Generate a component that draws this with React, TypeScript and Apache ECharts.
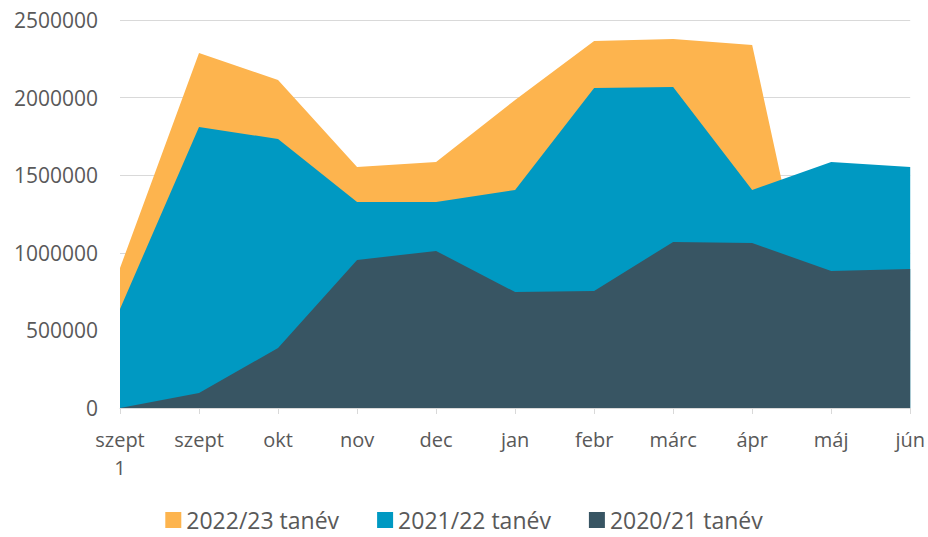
import React, { useEffect, useRef } from "react";
import * as echarts from "echarts";

const categories = ["szept\n1", "szept", "okt", "nov", "dec", "jan", "febr", "márc", "ápr", "máj", "jún"];
const s2022 = [902000, 2287000, 2113000, 1553000, 1585000, 1985000, 2365000, 2378000, 2339000, 0, 0];
const s2021 = [638000, 1811000, 1733000, 1327000, 1327000, 1405000, 2062000, 2068000, 1405000, 1585000, 1553000];
const s2020 = [0, 96000, 387000, 954000, 1012000, 747000, 754000, 1070000, 1063000, 883000, 896000];
const yTicks = { min: 0, max: 2500000, interval: 500000 };

const FONT = "'Open Sans', 'Noto Sans', sans-serif";
const TXT = "#595959";

export default function App() {
  const ref = useRef<HTMLDivElement>(null);
  useEffect(() => {
    const chart = echarts.init(ref.current!, null, { renderer: "svg" });
    const area = (name: string, data: number[], color: string) => ({
      name,
      type: "line",
      data,
      symbol: "none",
      lineStyle: { width: 0 },
      itemStyle: { color },
      areaStyle: { color, opacity: 1 },
    });
    chart.setOption({
      animation: false,
      textStyle: { fontFamily: FONT },
      grid: { left: 120, right: 17, top: 20, bottom: 129, containLabel: false },
      legend: {
        top: 508,
        left: "center",
        icon: "rect",
        itemWidth: 16,
        itemHeight: 16,
        itemGap: 38,
        padding: 0,
        textStyle: { color: TXT, fontSize: 23, lineHeight: 24, fontFamily: FONT },
        data: ["2022/23 tanév", "2021/22 tanév", "2020/21 tanév"],
      },
      xAxis: {
        type: "category",
        data: categories,
        boundaryGap: false,
        axisLine: { lineStyle: { color: "#d9d9d9", width: 1 } },
        axisTick: { show: true, alignWithLabel: true, length: 6, lineStyle: { color: "#d9d9d9" } },
        axisLabel: { color: TXT, fontSize: 20, margin: 17, lineHeight: 28, fontFamily: FONT, interval: 0 },
        splitLine: { show: false },
      },
      yAxis: {
        type: "value",
        min: yTicks.min,
        max: yTicks.max,
        interval: yTicks.interval,
        axisLine: { show: false },
        axisTick: { show: false },
        axisLabel: { color: TXT, fontSize: 21, margin: 22, fontFamily: FONT, formatter: (v: number) => String(v) },
        splitLine: { lineStyle: { color: "#d9d9d9", width: 1 } },
      },
      series: [
        area("2022/23 tanév", s2022, "#FDB44E"),
        area("2021/22 tanév", s2021, "#0099C2"),
        area("2020/21 tanév", s2020, "#385563"),
      ],
    });
    return () => chart.dispose();
  }, []);
  return <div ref={ref} style={{ width: 928, height: 537, position: "absolute", left: 0, top: 0 }} />;
}
